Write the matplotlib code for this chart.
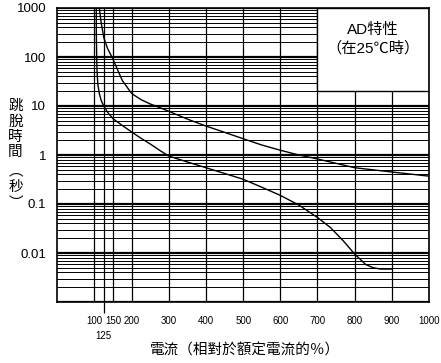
import matplotlib
matplotlib.use('Agg')
from matplotlib import pyplot as plt
from matplotlib.patches import Rectangle

plt.rcParams['font.family'] = ['Liberation Sans', 'Noto Sans CJK TC', 'DejaVu Sans']

# current in % of rating, trip time in seconds
upper_x = [113, 118, 125, 135, 147, 160, 175, 200, 225, 250, 275, 300, 350, 400, 450, 500, 550, 600, 650, 700, 800, 900, 1000]
upper_y = [1000, 500, 250, 150, 100, 60, 33, 18, 13.5, 11, 9.3, 7.8, 5.4, 3.9, 2.9, 2.15, 1.6, 1.25, 1.0, 0.83, 0.55, 0.45, 0.37]

lower_x = [105, 105, 106, 107, 109, 113, 118, 125, 135, 150, 175, 200, 225, 250, 275, 300, 350, 400, 450, 500, 550, 600, 650, 700, 735, 770, 800, 830, 850, 870, 900]
lower_y = [1000, 300, 100, 50, 28, 18, 13, 10, 7.5, 5.5, 4.0, 2.95, 2.2, 1.68, 1.25, 0.95, 0.72, 0.55, 0.42, 0.32, 0.22, 0.15, 0.095, 0.053, 0.033, 0.0175, 0.0095, 0.0058, 0.005, 0.0047, 0.0047]

x_ticks = [100, 125, 150, 200, 300, 400, 500, 600, 700, 800, 900, 1000]
x_labels = ['100', '', '150', '200', '300', '400', '500', '600', '700', '800', '900', '1000']
y_ticks = [0.001, 0.01, 0.1, 1, 10, 100, 1000]
y_labels = ['', '0.01', '0.1', '1', '10', '100', '1000']

ylabel_chars = ['跳', '脫', '時', '間', '︵', '秒', '︶']
ylabel_pos = [105.7, 121.7, 136.7, 151.7, 171.0, 186.7, 203.0]

fig = plt.figure(figsize=(4.41, 3.63), dpi=100)
ax = fig.add_axes([57.3/441, 1-302/363, (429-57.3)/441, (302-8)/363])

ax.set_xlim(0, 1000)
ax.set_yscale('log')
ax.set_ylim(0.001, 1000)

# grid
for k in range(-3, 4):
    ax.axhline(10.0**k, color='black', lw=1.6, zorder=1)
    if k < 3:
        for m in range(2, 10):
            ax.axhline(m * 10.0**k, color='black', lw=0.7, zorder=1)
for xv in x_ticks:
    ax.axvline(xv, color='black', lw=0.9, zorder=1)

# legend box
ax.add_patch(Rectangle((700, 20), 300, 980, facecolor='white', edgecolor='black', lw=1.0, zorder=2))
ax.text(850, 10**2.55, 'AD特性', ha='center', va='center', fontsize=11, zorder=3)
ax.text(850, 10**2.17, '（在25℃時）', ha='center', va='center', fontsize=11, zorder=3)

ax.plot(upper_x, upper_y, color='black', lw=1.0, zorder=4)
ax.plot(lower_x, lower_y, color='black', lw=1.0, zorder=4)

ax.set_xticks(x_ticks)
ax.set_xticklabels(x_labels)
ax.set_yticks(y_ticks)
ax.set_yticklabels(y_labels)
ax.yaxis.set_minor_locator(matplotlib.ticker.NullLocator())
ax.tick_params(axis='x', length=0, pad=10, labelsize=7)
ax.tick_params(axis='y', length=0, pad=8, labelsize=9.5)
t125 = ax.xaxis.get_major_ticks()[1]
t125.tick1line.set_markersize(8)
t125.tick1line.set_markeredgewidth(0.9)
# 125 label sits one line lower, under its long tick
ax.text(125, -0.115, '125', transform=ax.get_xaxis_transform(), ha='center', va='center', fontsize=7)

for s in ax.spines.values():
    s.set_linewidth(1.2)

fig.text(245/441, 1-351/363, '電流（相對於額定電流的％）', ha='center', va='center', fontsize=10.5)
for ch, yp in zip(ylabel_chars, ylabel_pos):
    fig.text(15.5/441, 1-yp/363, ch, ha='center', va='center', fontsize=10.5,
             family=['Noto Sans CJK TC'])

fig.savefig('out.png', dpi=100)
